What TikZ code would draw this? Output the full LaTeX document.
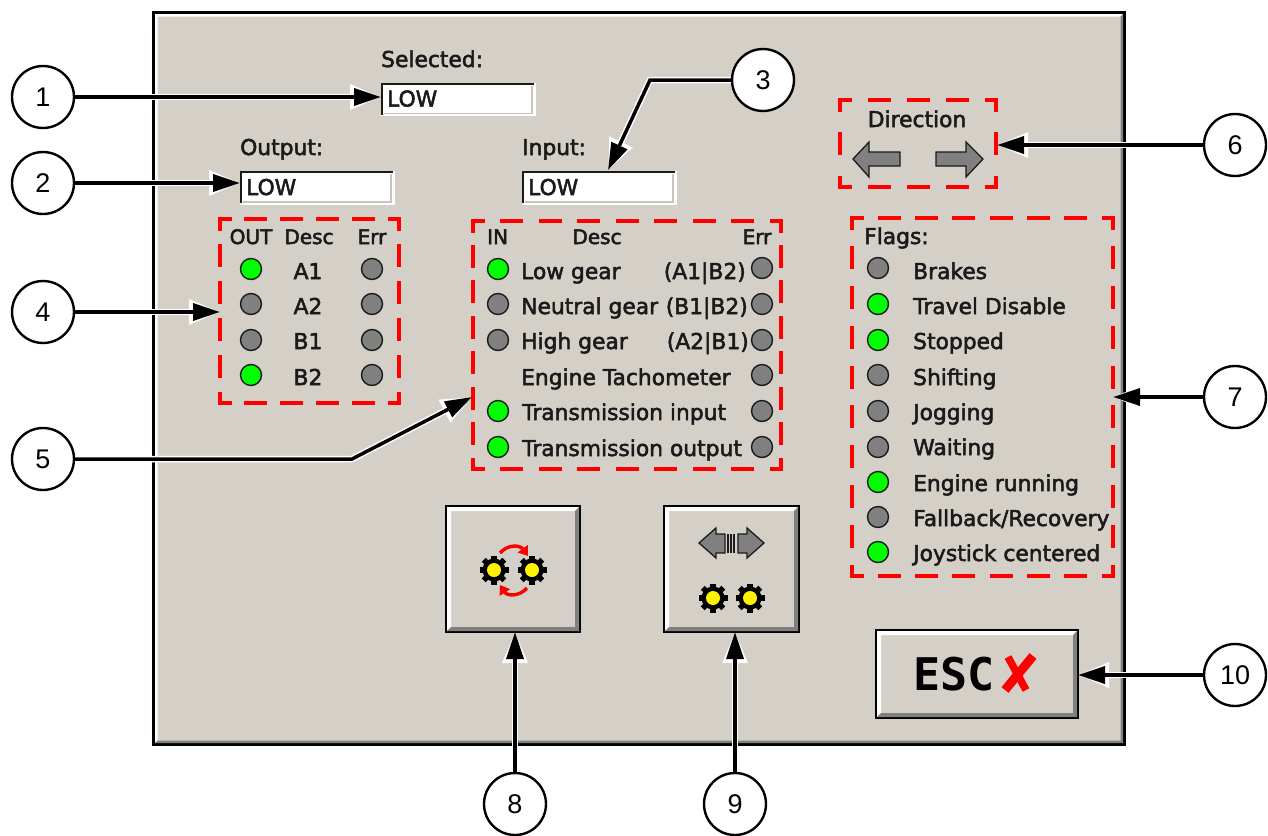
\documentclass[tikz,border=0pt]{standalone}
\usepackage{fontspec}
\setmainfont{DejaVu Sans}
\newfontfamily\numfont{Liberation Sans}
\newfontfamily\escfont{DejaVu Sans Mono}
\usetikzlibrary{arrows.meta}
\definecolor{panel}{HTML}{D4D0C8}
\definecolor{ledgray}{HTML}{808080}
\definecolor{ledgreen}{HTML}{00FF00}
\definecolor{bevel}{HTML}{808080}
\definecolor{ink}{HTML}{1A1A1A}
\newcommand{\heavier}{\special{pdf:code 2 Tr 0.5 w}}
\tikzset{
  callnum/.style={circle,draw=black,line width=2.4pt,fill=white,minimum size=62pt,inner sep=0pt,font=\numfont\fontsize{27}{30}\selectfont},
  dbox/.style={inner sep=0pt,fill=none},
  dside/.style={draw=red,line width=4pt,line cap=rect},
  field/.style={fill=white,inner sep=0pt,minimum width=154pt,minimum height=33pt},
  txt/.style={inner sep=0pt,text=ink,font=\fontsize{21.8}{24}\selectfont\heavier},
  lw/.style={txt,anchor=base west},
  le/.style={txt,anchor=base east},
  lc/.style={txt,anchor=base},
  hd/.style={lc,font=\fontsize{20}{24}\selectfont\heavier},
  ledon/.style={circle,draw=ink,line width=1.4pt,fill=ledgreen,minimum size=21pt,inner sep=0pt},
  ledoff/.style={circle,draw=ink,line width=1.4pt,fill=ledgray,minimum size=21pt,inner sep=0pt},
  halo/.style={draw=white,line width=6.5pt,-{Triangle[length=31pt,width=24pt]}},
  core/.style={draw=black,line width=3.5pt,-{Triangle[length=27pt,width=17pt]}},
  garrow/.style={fill=ledgray,draw=ink,line width=1.3pt,line join=miter},
  redarc/.style={draw=red,line width=3.4pt,-{Triangle[length=9pt,width=12pt]}},
}
% one side of a dashed box, corner to corner: half a dash at each corner
\newcommand{\dashside}[4]{%
  \pgfmathsetmacro{\sideL}{abs(#3-#1)+abs(#4-#2)}%
  \pgfmathsetmacro{\sideN}{round((\sideL-38)/38)}%
  \pgfmathsetmacro{\sideG}{(\sideL-23-23*\sideN)/(\sideN+1)+4}%
  \draw[dside,dash pattern=on 19pt off \sideG pt,dash phase=9.5pt] (#1,#2) -- (#3,#4);%
}
% name, x1,y1,x2,y2
\newcommand{\redbox}[5]{%
  \node[dbox,minimum width={(#4-#2)*1pt},minimum height={(#5-#3)*1pt}] (#1) at ({(#2+#4)/2},{(#3+#5)/2}) {};
  \dashside{#2}{#3}{#4}{#3}\dashside{#2}{#5}{#4}{#5}\dashside{#2}{#3}{#2}{#5}\dashside{#4}{#3}{#4}{#5}
}
\newcommand{\winbtn}[5]{%
  \node[fill=panel,draw=black,line width=1.5pt,inner sep=0pt,minimum width={(#4-#2)*1pt},minimum height={(#5-#3)*1pt}] (#1) at ({(#2+#4)/2},{(#3+#5)/2}) {};
  \fill[white] (#2+1,#3+1) -- (#4-1,#3+1) -- (#4-5,#3+5) -- (#2+5,#3+5) -- (#2+5,#5-5) -- (#2+1,#5-1) -- cycle;
  \fill[bevel] (#4-1,#5-1) -- (#2+1,#5-1) -- (#2+5,#5-5) -- (#4-5,#5-5) -- (#4-5,#3+5) -- (#4-1,#3+1) -- cycle;
}
\newcommand{\lowfield}[3]{%
  \node[field] (#1) at (#2+77,#3+16.5) {};
  \draw[ink,line width=2pt] (#2+1,#3+32) -- (#2+1,#3+1) -- (#2+153,#3+1);
  \draw[white,line width=1.5pt] (#2,#3+33) -- (#2+154,#3+33) -- (#2+154,#3);
  \draw[panel!85!gray,line width=1.2pt] (#2+3,#3+31) -- (#2+151,#3+31) -- (#2+151,#3+3);
  \node[lw] (#1t) at (#2+6,#3+24) {LOW};
}
\newcommand{\gear}[2]{%
  \foreach \a in {0,45,...,315}{\draw[black,line width=5.5pt] (#1,#2) -- ++(\a:14.5);}
  \fill[black] (#1,#2) circle (11.5);
  \fill[yellow] (#1,#2) circle (7);
}
\newcommand{\callout}[1]{\draw[halo] #1; \draw[core] #1;}
\begin{document}
\begin{tikzpicture}[x=1pt,y=-1pt]
\useasboundingbox (0,0) rectangle (1268,835);
\fill[white] (0,0) rectangle (1268,835);
\node[fill=panel,draw=black,line width=3pt,inner sep=0pt,minimum width=971pt,minimum height=732pt] (panelbox) at (639,378.5) {};
\fill[white] (155,14) -- (1123,14) -- (1120.5,16.5) -- (157.5,16.5) -- (157.5,740.5) -- (155,743) -- cycle;
\fill[bevel] (1123,743) -- (155,743) -- (157.5,740.5) -- (1120.5,740.5) -- (1120.5,16.5) -- (1123,14) -- cycle;

% fields
\lowfield{fsel}{381}{82.5}
\lowfield{fout}{240}{171}
\lowfield{finp}{522}{171}
\node[lw] (tsel) at (381,67) {Selected:};
\node[lw] (tout) at (240,155) {Output:};
\node[lw] (tinp) at (522,155) {Input:};

% dashed boxes
\redbox{boxout}{220}{219}{399}{403}
\redbox{boxin}{473}{221}{781}{469}
\redbox{boxdir}{840}{100}{996}{187}
\redbox{boxflags}{852}{218}{1113}{576}

% output table
\node[hd] (h1) at (251,244) {OUT};
\node[hd] (h2) at (309,244) {Desc};
\node[hd] (h3) at (372,244) {Err};
\node[lc] (a1) at (308,279) {A1};
\node[lc] (a2) at (308,314) {A2};
\node[lc] (b1) at (308,349) {B1};
\node[lc] (b2) at (308,385) {B2};
\node[ledon] (o1) at (251,269) {};
\node[ledoff] (o2) at (251,304) {};
\node[ledoff] (o3) at (251,340) {};
\node[ledon] (o4) at (251,375) {};
\node[ledoff] (oe1) at (372,269) {};
\node[ledoff] (oe2) at (372,304) {};
\node[ledoff] (oe3) at (372,340) {};
\node[ledoff] (oe4) at (372,375) {};

% input table
\node[lw,font=\fontsize{20}{24}\selectfont\heavier] (ih1) at (487,244) {IN};
\node[hd] (ih2) at (597,244) {Desc};
\node[hd] (ih3) at (757,244) {Err};
\node[ledon] (i1) at (498,269) {};
\node[ledoff] (i2) at (498,304) {};
\node[ledoff] (i3) at (498,340) {};
\node[ledon] (i5) at (498,411) {};
\node[ledon] (i6) at (498,447) {};
\node[ledoff] (ie1) at (762,268) {};
\node[ledoff] (ie2) at (762,304) {};
\node[ledoff] (ie3) at (762,340) {};
\node[ledoff] (ie4) at (762,375) {};
\node[ledoff] (ie5) at (762,411) {};
\node[ledoff] (ie6) at (762,447) {};
\node[lw] (il1) at (521,279) {Low gear};
\node[lw] (il2) at (521,314) {Neutral gear};
\node[lw] (il3) at (521,349) {High gear};
\node[lw] (il4) at (521,385) {Engine Tachometer};
\node[lw] (il5) at (522,420) {Transmission input};
\node[lw] (il6) at (522,456) {Transmission output};
\node[le] (ir1) at (746,279) {(A1|B2)};
\node[le] (ir2) at (748,314) {(B1|B2)};
\node[le] (ir3) at (749,349) {(A2|B1)};

% direction
\node[lc] (tdir) at (917,127) {Direction};
\draw[garrow] (853,159) -- (869,142) -- (869,152) -- (900,152) -- (900,166) -- (869,166) -- (869,177) -- cycle;
\draw[garrow] (983,159) -- (966,142) -- (966,152) -- (936,152) -- (936,166) -- (966,166) -- (966,177) -- cycle;

% flags
\node[lw] (fh) at (864,244) {Flags:};
\node[ledoff] (f1) at (878,268) {};
\node[ledon] (f2) at (878,304) {};
\node[ledon] (f3) at (878,340) {};
\node[ledoff] (f4) at (878,375) {};
\node[ledoff] (f5) at (878,411) {};
\node[ledoff] (f6) at (878,447) {};
\node[ledon] (f7) at (878,482) {};
\node[ledoff] (f8) at (878,517) {};
\node[ledon] (f9) at (878,552) {};
\node[lw] (fl1) at (913,279) {Brakes};
\node[lw] (fl2) at (913,314) {Travel Disable};
\node[lw] (fl3) at (913,349) {Stopped};
\node[lw] (fl4) at (913,385) {Shifting};
\node[lw] (fl5) at (913,420) {Jogging};
\node[lw] (fl6) at (913,455) {Waiting};
\node[lw] (fl7) at (913,491) {Engine running};
\node[lw] (fl8) at (913,526) {Fallback/Recovery};
\node[lw] (fl9) at (913,561) {Joystick centered};

% buttons
\winbtn{btnshift}{446}{506}{580}{632}
\winbtn{btndir}{664}{506}{799}{632}
\winbtn{btnesc}{876}{630}{1078}{718}
\gear{494}{570}\gear{532}{570}
\draw[redarc] (500,553) .. controls (508,544) and (520,545) .. (528,556);
\draw[redarc] (527,588) .. controls (519,597) and (507,596) .. (500,585);
\gear{713}{598}\gear{750}{598}
\draw[garrow] (699,543) -- (716,528) -- (716,534) -- (725,534) -- (725,553) -- (716,553) -- (716,558) -- cycle;
\draw[garrow] (764,543) -- (747,528) -- (747,534) -- (738,534) -- (738,553) -- (747,553) -- (747,558) -- cycle;
\foreach \q in {728,731,734}{\draw[ink,line width=1.3pt] (\q,534) -- (\q,553);}
\node[inner sep=0pt,anchor=base west,font=\escfont\bfseries\fontsize{45}{50}\selectfont,text=black] (esc) at (913,690) {ESC};
\draw[red,line width=9pt] (1005,690) -- (1033,656);
\draw[red,line width=7.5pt] (1008,657) -- (1026,690);

% connector ends
\coordinate (e1) at (381,97);
\coordinate (e2) at (240,183);
\coordinate (k3) at (650,80);
\coordinate (e3) at (608,170);
\coordinate (e4) at (220,312);
\coordinate (k5) at (352,459);
\coordinate (e5) at (472,397);
\coordinate (e6) at (997,145);
\coordinate (e7) at (1113,397);
\coordinate (e8) at (515,632);
\coordinate (e9) at (735,632);
\coordinate (e10) at (1078,675);

% callout circles
\node[callnum] (c1) at (43,97) {1};
\node[callnum] (c2) at (43,183) {2};
\node[callnum] (c3) at (763,80) {3};
\node[callnum] (c4) at (43,312) {4};
\node[callnum] (c5) at (43,459) {5};
\node[callnum] (c6) at (1235,145) {6};
\node[callnum] (c7) at (1235,397) {7};
\node[callnum] (c8) at (515,804) {8};
\node[callnum] (c9) at (735,804) {9};
\node[callnum] (c10) at (1235,675) {10};

\callout{(c1) -- (e1)}
\callout{(c2) -- (e2)}
\callout{(c3) -- (k3) -- (e3)}
\callout{(c4) -- (e4)}
\callout{(c5) -- (k5) -- (e5)}
\callout{(c6) -- (e6)}
\callout{(c7) -- (e7)}
\callout{(c8) -- (e8)}
\callout{(c9) -- (e9)}
\callout{(c10) -- (e10)}
\end{tikzpicture}
\end{document}
